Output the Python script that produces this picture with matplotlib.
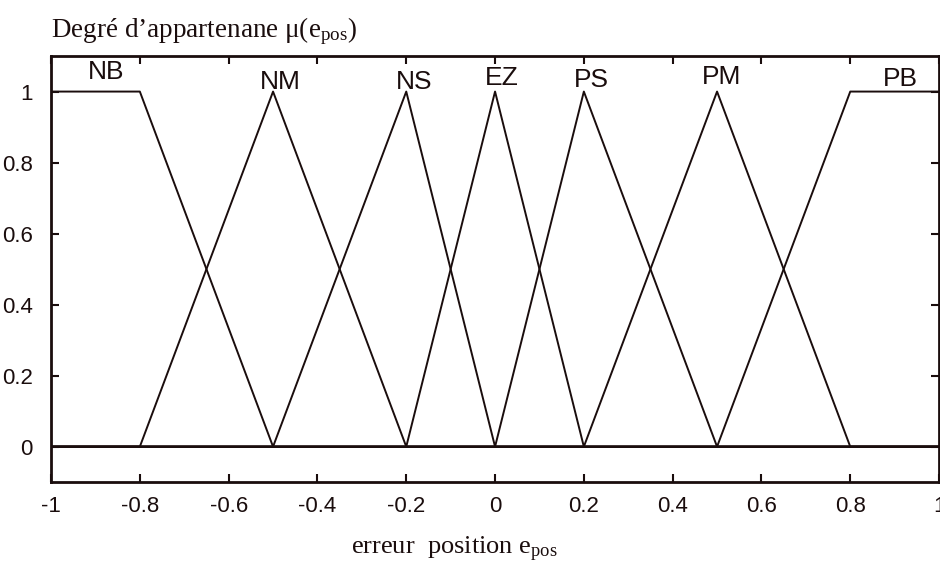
import matplotlib
matplotlib.use("Agg")
import matplotlib.pyplot as plt
import numpy as np

names = ["NB", "NM", "NS", "EZ", "PS", "PM", "PB"]
# breakpoints (x) and membership values for each fuzzy set
xs = [
    [-1.0, -0.8, -0.5, 1.0],
    [-1.0, -0.8, -0.5, -0.2, 1.0],
    [-1.0, -0.5, -0.2, 0.0, 1.0],
    [-1.0, -0.2, 0.0, 0.2, 1.0],
    [-1.0, 0.0, 0.2, 0.5, 1.0],
    [-1.0, 0.2, 0.5, 0.8, 1.0],
    [-1.0, 0.5, 0.8, 1.0],
]
ys = [
    [1, 1, 0, 0],
    [0, 0, 1, 0, 0],
    [0, 0, 1, 0, 0],
    [0, 0, 1, 0, 0],
    [0, 0, 1, 0, 0],
    [0, 0, 1, 0, 0],
    [0, 0, 1, 1],
]
label_x = [-0.875, -0.484, -0.182, 0.016, 0.216, 0.51, 0.912]
label_y = [1.034, 1.008, 1.008, 1.018, 1.014, 1.020, 1.017]
xticks = [-1, -0.8, -0.6, -0.4, -0.2, 0, 0.2, 0.4, 0.6, 0.8, 1]
xticklabels = ["-1", "-0.8", "-0.6", "-0.4", "-0.2", "0", "0.2", "0.4", "0.6", "0.8", "1"]
yticks = [0, 0.2, 0.4, 0.6, 0.8, 1]
yticklabels = ["0", "0.2", "0.4", "0.6", "0.8", "1"]

col = "#1a0d0d"
plt.rcParams["font.family"] = ["Liberation Sans", "DejaVu Sans"]
plt.rcParams["mathtext.fontset"] = "custom"
plt.rcParams["mathtext.rm"] = "Liberation Serif"
plt.rcParams["mathtext.it"] = "Liberation Serif:italic"
plt.rcParams["mathtext.bf"] = "Liberation Serif:bold"
fig = plt.figure(figsize=(9.4, 5.72), dpi=100)
ax = fig.add_axes([0.0543, 0.157, 0.9447, 0.745])
for x, y in zip(xs, ys):
    ax.plot(x, y, color=col, lw=1.4)
for n, lx, ly in zip(names, label_x, label_y):
    ax.text(lx, ly, n, ha="center", va="baseline", fontsize=19, color=col)
ax.set_xlim(-1, 1)
ax.set_ylim(-0.1, 1.1)
ax.set_xticks(xticks)
ax.set_xticklabels(xticklabels)
ax.set_yticks(yticks)
ax.set_yticklabels(yticklabels)
ax.tick_params(direction="in", top=True, right=True, labelsize=16, colors=col,
               length=6, width=1.5)
ax.tick_params(axis="y", pad=13)
ax.tick_params(axis="x", pad=10)
for s in ax.spines.values():
    s.set_linewidth(2)
    s.set_color(col)
fig.text(0.054, 0.945, "Degré d’appartenane μ(e$_{\\mathrm{pos}}$)", fontsize=19.5,
         family=["Liberation Serif", "DejaVu Serif"], color=col, va="center", ha="left")
fig.text(0.483, 0.04, "erreur  position e$_{\\mathrm{pos}}$", fontsize=19,
         family=["Liberation Serif", "DejaVu Serif"], color=col, va="center", ha="center")
fig.savefig("out.png", dpi=100)
